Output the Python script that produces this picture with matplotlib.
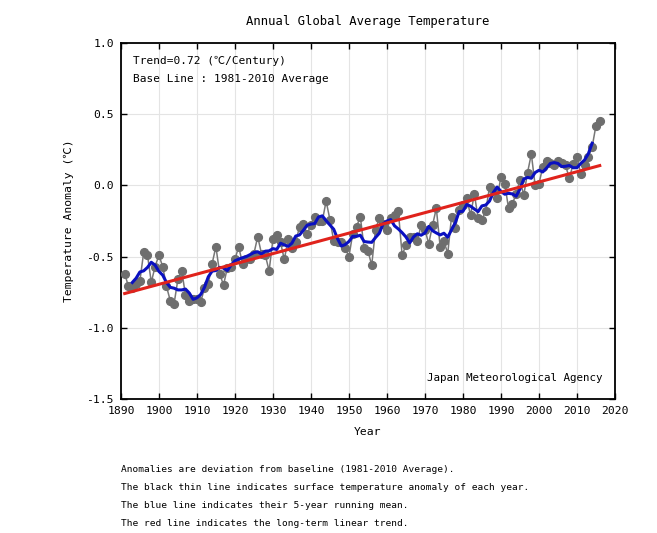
import matplotlib.pyplot as plt
import numpy as np

plt.rcParams['font.family'] = ['DejaVu Sans Mono', 'Noto Sans CJK JP']

# JMA annual global mean temperature anomaly (deg C, vs 1981-2010 average)
years = list(range(1891, 2017))
anomaly = [
    -0.62, -0.71, -0.72, -0.69, -0.67, -0.47, -0.49, -0.68, -0.57, -0.49,
    -0.57, -0.71, -0.81, -0.83, -0.66, -0.60, -0.77, -0.81, -0.80, -0.80,
    -0.82, -0.72, -0.69, -0.55, -0.43, -0.62, -0.70, -0.58, -0.57, -0.52,
    -0.43, -0.55, -0.52, -0.52, -0.48, -0.36, -0.48, -0.49, -0.60, -0.38,
    -0.35, -0.40, -0.52, -0.38, -0.44, -0.40, -0.29, -0.27, -0.34, -0.28,
    -0.22, -0.25, -0.25, -0.11, -0.24, -0.39, -0.40, -0.40, -0.44, -0.50,
    -0.34, -0.29, -0.22, -0.44, -0.46, -0.56, -0.31, -0.23, -0.27, -0.31,
    -0.23, -0.21, -0.18, -0.49, -0.42, -0.36, -0.36, -0.39, -0.28, -0.31,
    -0.41, -0.28, -0.16, -0.43, -0.39, -0.48, -0.22, -0.30, -0.17, -0.14,
    -0.09, -0.21, -0.06, -0.23, -0.24, -0.18, -0.01, -0.03, -0.09, 0.06,
    0.01, -0.16, -0.13, -0.06, 0.04, -0.07, 0.09, 0.22, 0.00, 0.01,
    0.13, 0.17, 0.16, 0.14, 0.17, 0.16, 0.14, 0.05, 0.15, 0.20,
    0.08, 0.14, 0.20, 0.27, 0.42, 0.45,
]

x_ticks = list(range(1890, 2021, 10))
y_ticks = [-1.5, -1.0, -0.5, 0.0, 0.5, 1.0]

notes = [
    "Anomalies are deviation from baseline (1981-2010 Average).",
    "The black thin line indicates surface temperature anomaly of each year.",
    "The blue line indicates their 5-year running mean.",
    "The red line indicates the long-term linear trend.",
]

yr = np.array(years)
val = np.array(anomaly)

# 5-year running mean, centred
run = np.convolve(val, np.ones(5) / 5, mode='valid')
run_years = yr[2:-2]

# linear trend
slope, intercept = np.polyfit(yr, val, 1)
trend = slope * yr + intercept

fig = plt.figure(figsize=(6.57, 5.33), dpi=100)
ax = fig.add_axes([0.184, 0.2514, 0.752, 0.668])

ax.grid(True, color='#e4e4e4', linewidth=0.8)
ax.set_axisbelow(True)

ax.plot(yr, val, '-', color='#777777', linewidth=1.1, zorder=2)
ax.plot(yr, val, 'o', color='#6e6e6e', markersize=5.6, zorder=3)
ax.plot(run_years, run, '-', color='#0a10c0', linewidth=2.2, zorder=4)
ax.plot(yr, trend, '-', color='#e0231c', linewidth=2.2, zorder=5)

ax.set_xlim(1890, 2020)
ax.set_ylim(-1.5, 1.0)
ax.set_xticks(x_ticks)
ax.set_yticks(y_ticks)
ax.set_xticklabels([str(t) for t in x_ticks])
ax.set_yticklabels([f"{t:.1f}" for t in y_ticks])
ax.tick_params(direction='in', top=True, right=True, length=4,
               width=1.0, labelsize=8.2, pad=5)
for sp in ax.spines.values():
    sp.set_linewidth(1.3)

ax.set_title("Annual Global Average Temperature", fontsize=8.8, pad=13)
ax.set_xlabel("Year", fontsize=8.2, labelpad=8)
ax.set_ylabel("Temperature Anomaly (\u2103)", fontsize=8.2, labelpad=9)

ax.text(0.025, 0.965, f"Trend={slope * 100:.2f} (\u2103/Century)",
        transform=ax.transAxes, fontsize=8.0, va='top', ha='left')
ax.text(0.025, 0.912, "Base Line : 1981-2010 Average",
        transform=ax.transAxes, fontsize=8.0, va='top', ha='left')
ax.text(0.975, 0.045, "Japan Meteorological Agency",
        transform=ax.transAxes, fontsize=7.8, va='bottom', ha='right')

for i, line in enumerate(notes):
    fig.text(121 / 657, 1 - (470 + 17.8 * i) / 533, line,
             fontsize=6.8, va='center', ha='left')

fig.savefig('out.png', dpi=100)
